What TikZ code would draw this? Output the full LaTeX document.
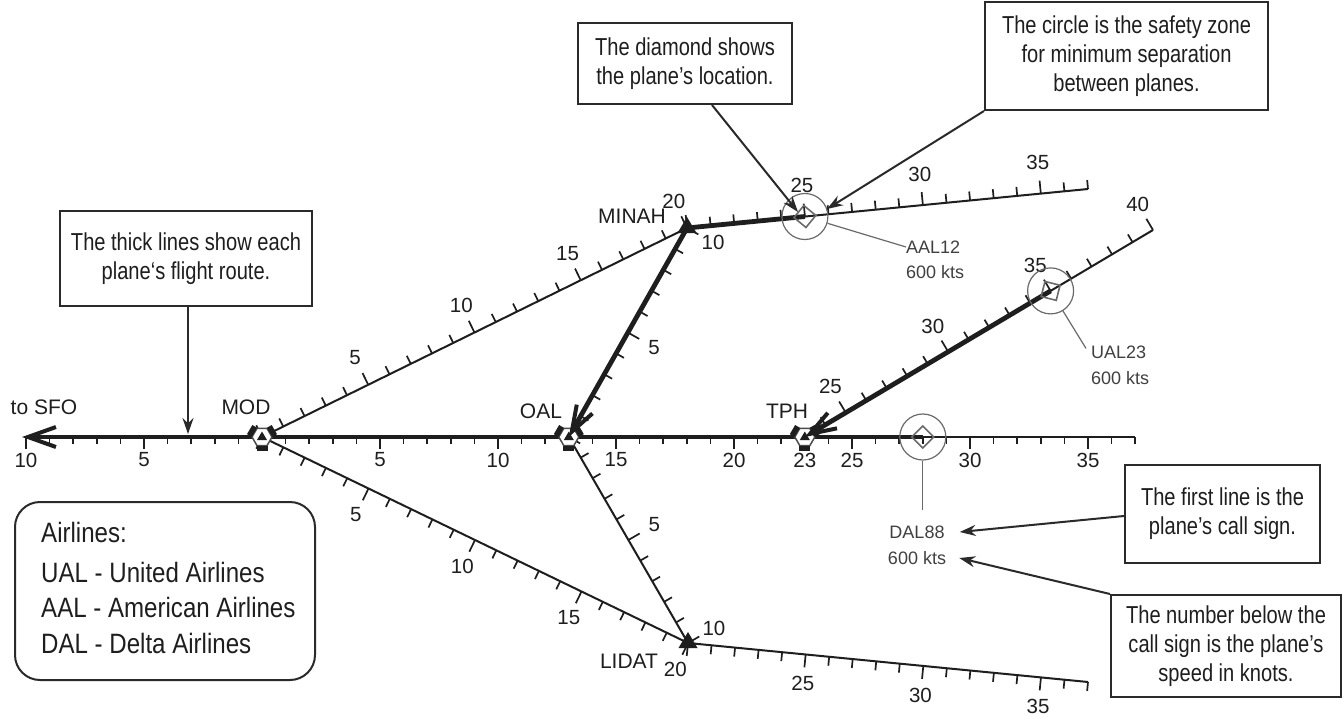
\documentclass[tikz,border=0pt]{standalone}
\usepackage{fontspec}
\setmainfont{Liberation Sans}
\newfontfamily\narrowfont[FakeStretch=0.82]{Liberation Sans}
\newfontfamily\legfont[FakeStretch=0.86]{Liberation Sans}
\usetikzlibrary{arrows.meta,calc}

% #1 ax #2 ay #3 bx #4 by #5 va #6 vb #7 side #8 minor #9 major
\newcommand\tickline[9]{%
  \pgfmathsetmacro\Tdx{(#3-(#1))/(#6-(#5))}%
  \pgfmathsetmacro\Tdy{(#4-(#2))/(#6-(#5))}%
  \pgfmathsetmacro\Tlen{sqrt(\Tdx*\Tdx+\Tdy*\Tdy)}%
  \pgfmathsetmacro\Tnx{-(#7)*\Tdy/\Tlen}%
  \pgfmathsetmacro\Tny{(#7)*\Tdx/\Tlen}%
  \draw[scaleline] (#1,#2) -- (#3,#4);
  \foreach \v in {#5,...,#6}{%
    \pgfmathsetmacro\Tpx{#1+(\v-(#5))*\Tdx}%
    \pgfmathsetmacro\Tpy{#2+(\v-(#5))*\Tdy}%
    \pgfmathsetmacro\Tk{mod(\v,5)==0 ? #9 : #8}%
    \draw[tickmark] (\Tpx,\Tpy) -- ++(\Tk*\Tnx,\Tk*\Tny);
  }%
}
% #1 prefix #2 ax #3 ay #4 bx #5 by #6 va #7 vb #8 signed dist #9 list
\newcommand\ticklabels[9]{%
  \pgfmathsetmacro\Tdx{(#4-(#2))/(#7-(#6))}%
  \pgfmathsetmacro\Tdy{(#5-(#3))/(#7-(#6))}%
  \pgfmathsetmacro\Tlen{sqrt(\Tdx*\Tdx+\Tdy*\Tdy)}%
  \pgfmathsetmacro\Tnx{-\Tdy/\Tlen}%
  \pgfmathsetmacro\Tny{\Tdx/\Tlen}%
  \foreach \v in {#9}{%
    \pgfmathsetmacro\Tpx{#2+(\v-(#6))*\Tdx+(#8)*\Tnx}%
    \pgfmathsetmacro\Tpy{#3+(\v-(#6))*\Tdy+(#8)*\Tny}%
    \pgfmathtruncatemacro\Tlab{abs(\v)}%
    \node[numlabel] (#1\v) at (\Tpx,\Tpy) {\Tlab};
  }%
}

\definecolor{ink}{HTML}{1E1E1E}
\definecolor{boxink}{HTML}{2A2A2A}
\definecolor{zonegray}{HTML}{6A6A6A}

\begin{document}
\begin{tikzpicture}[x=1pt,y=-1pt,
  scaleline/.style={line width=2pt,draw=ink},
  tickmark/.style={line width=1.7pt,draw=ink},
  route/.style={line width=4.8pt,draw=ink,line join=round},
  sfobarb/.style={-{Straight Barb[length=28pt,width=20pt,line width=4pt]}},
  routebarb/.style={-{Straight Barb[length=26pt,width=18pt,line width=4pt]}},
  numlabel/.style={font=\fontsize{20.5}{24}\selectfont,text=ink,inner sep=0pt},
  wplabel/.style={font=\fontsize{21}{25}\selectfont,text=ink,inner sep=0pt},
  plab/.style={font=\fontsize{18}{22}\selectfont,text=ink!85,inner sep=0pt},
  zone/.style={circle,draw=zonegray,line width=1.2pt,minimum size=46pt,inner sep=0pt},
  planemark/.style={draw=zonegray,line width=1.6pt,line join=miter},
  leader/.style={draw=zonegray,line width=1.2pt},
  note/.style={draw=boxink,line width=2pt,align=center,text=ink,
    font=\narrowfont\fontsize{24.5}{29}\selectfont,inner xsep=10pt,inner ysep=6pt},
  callout/.style={draw=boxink,line width=2pt,-{Stealth[length=16pt,width=11pt]}},
  vortac/.pic={
    \fill[white] (10,0) -- (5,8.66) -- (-5,8.66) -- (-10,0) -- (-5,-8.66) -- (5,-8.66) -- cycle;
    \draw[line width=1.5pt,draw=black!70] (10,0) -- (5,8.66) -- (-5,8.66) -- (-10,0) -- (-5,-8.66) -- (5,-8.66) -- cycle;
    \draw[line width=5.5pt,draw=ink] (12.6,-1.5) -- (7.3,-10.6);
    \draw[line width=5.5pt,draw=ink] (-12.6,-1.5) -- (-7.3,-10.6);
    \draw[line width=5.5pt,draw=ink] (-5.5,11.3) -- (5.5,11.3);
    \fill[ink] (0,-5.5) -- (-5,3) -- (5,3) -- cycle;
  },
  wpt/.pic={
    \fill[ink] (0,-11) -- (-9.5,5) -- (9.5,5) -- cycle;
  }
]
\useasboundingbox (0,0) rectangle (1344,717);
\fill[white] (0,0) rectangle (1344,717);

\coordinate (MOD) at (262,437);
\coordinate (OAL) at (568.8,437);
\coordinate (TPH) at (804.8,437);
\coordinate (MINAH) at (687,228);
\coordinate (LIDAT) at (688,643);
\coordinate (SFO) at (22,437);
\coordinate (DAL) at (922.8,437);
\coordinate (AAL) at (804.9,216.5);
\coordinate (UAL) at (1050.6,290.9);

% scales
\tickline{26}{437}{1135.2}{437}{-10}{37}{1}{7}{12}
\ticklabels{mn}{26}{437}{1135.2}{437}{-10}{37}{23}{-10,-5,5,10,15,20,23,25,30,35}
\tickline{262}{437}{687}{228}{0}{20}{-1}{9}{13}
\ticklabels{ma}{262}{437}{687}{228}{0}{20}{-30}{5,10,15,20}
\tickline{687}{228}{1088}{189}{20}{37}{-1}{9}{13}
\ticklabels{me}{687}{228}{1088}{189}{20}{37}{-31}{25,30,35}
\tickline{568.8}{437}{687}{228}{0}{10}{1}{9}{13}
\ticklabels{om}{568.8}{437}{687}{228}{0}{10}{30}{5,10}
\tickline{568.8}{437}{688}{643}{0}{10}{-1}{9}{13}
\ticklabels{ol}{568.8}{437}{688}{643}{0}{10}{-30}{5,10}
\tickline{262}{437}{688}{643}{0}{20}{1}{9}{13}
\ticklabels{ml}{262}{437}{688}{643}{0}{20}{29}{5,10,15,20}
\tickline{688}{643}{1088}{682}{20}{37}{1}{9}{13}
\ticklabels{le}{688}{643}{1088}{682}{20}{37}{29.5}{25,30,35}
\tickline{804.8}{437}{1153}{230}{23}{40}{-1}{9}{13}
\ticklabels{te}{804.8}{437}{1153}{230}{23}{40}{-30}{25,30,35,40}

% route of DAL88
\draw[route,sfobarb] (DAL) -- (SFO);

% navaids
\pic at (MOD) {vortac};
\pic at (OAL) {vortac};
\pic at (TPH) {vortac};
\pic at (MINAH) {wpt};
\pic at (LIDAT) {wpt};

% routes of AAL12 and UAL23
\draw[route,routebarb] (AAL) -- (MINAH) -- (OAL);
\draw[route,routebarb] (UAL) -- (TPH);

% planes
\draw[planemark,shift={(DAL)}] (11,0) -- (0,11) -- (-11,0) -- (0,-11) -- cycle;
\draw[planemark,shift={(AAL)},rotate=5.55] (11,0) -- (0,11) -- (-11,0) -- (0,-11) -- cycle;
\draw[planemark,shift={(UAL)},rotate=30.73] (11,0) -- (0,11) -- (-11,0) -- (0,-11) -- cycle;
\node[zone] (dalc) at (DAL) {};
\node[zone] (aalc) at (AAL) {};
\node[zone] (ualc) at (UAL) {};

% point labels
\node[wplabel] (sfol) at (44,407) {to SFO};
\node[wplabel] (modl) at (246,407) {MOD};
\node[wplabel] (oall) at (541,411) {OAL};
\node[wplabel] (tphl) at (787,411) {TPH};
\node[wplabel] (minahl) at (632,216) {MINAH};
\node[wplabel] (lidatl) at (629,661) {LIDAT};

% plane data blocks
\node[plab,anchor=west] (aal1) at (906,247) {AAL12};
\node[plab,anchor=west] (aal2) at (906,272) {600 kts};
\node[plab,anchor=west] (ual1) at (1091,352) {UAL23};
\node[plab,anchor=west] (ual2) at (1091,378) {600 kts};
\node[plab] (dal1) at (917,532) {DAL88};
\node[plab] (dal2) at (917,558) {600 kts};
\draw[leader] (aalc) -- (aal1.west);
\draw[leader] (ualc) -- ([xshift=-5pt,yshift=-3pt]ual1.north west);
\draw[leader] (dalc.south) -- (dalc.south |- 0,510);

% notes
\node[note,minimum width=252pt,minimum height=95pt] (tbox) at (186,258.5)
  {The thick lines show each\\plane‘s flight route.};
\node[note,minimum width=214pt,minimum height=81pt] (dbox) at (685,63.5)
  {The diamond shows\\the plane’s location.};
\node[note,minimum width=283pt,minimum height=108pt] (cbox) at (1126.5,56)
  {The circle is the safety zone\\for minimum separation\\between planes.};
\node[note,minimum width=195pt,minimum height=98pt] (fbox) at (1222.5,514)
  {The first line is the\\plane’s call sign.};
\node[note,minimum width=230pt,minimum height=102pt] (nbox) at (1226,646)
  {The number below the\\call sign is the plane’s\\speed in knots.};

\coordinate (tTip) at (188,434);
\coordinate (dTip) at (798,212);
\coordinate (cTip) at (827,209);
\coordinate (fTip) at ([xshift=15pt]dal1.east);
\coordinate (nTip) at ([xshift=13pt]dal2.east);
\draw[callout] (tbox.south -| tTip) -- (tTip);
\draw[callout] ([xshift=27pt]dbox.south) -- (dTip);
\draw[callout] (cbox.south west) -- (cTip);
\draw[callout] ([yshift=-2pt]fbox.west) -- (fTip);
\draw[callout] (nbox.north west) -- (nTip);

% legend
\node[draw=boxink,line width=2pt,rounded corners=25pt,minimum width=300pt,minimum height=178pt] (legbox) at (165,591) {};
\node[anchor=west,inner sep=0pt,text=ink,font=\legfont\fontsize{28}{32}\selectfont] (leg1) at (41,532) {Airlines:};
\node[anchor=west,inner sep=0pt,text=ink,font=\legfont\fontsize{28}{32}\selectfont] (leg2) at (41,572) {UAL - United Airlines};
\node[anchor=west,inner sep=0pt,text=ink,font=\legfont\fontsize{28}{32}\selectfont] (leg3) at (41,607) {AAL - American Airlines};
\node[anchor=west,inner sep=0pt,text=ink,font=\legfont\fontsize{28}{32}\selectfont] (leg4) at (41,643) {DAL - Delta Airlines};
\end{tikzpicture}
\end{document}
